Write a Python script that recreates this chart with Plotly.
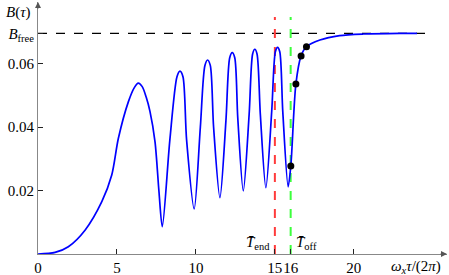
import plotly.graph_objects as go

# Curve B(tau)
tau = [0, 1.08, 1.92, 2.99, 4.04, 4.67, 5.09, 5.72, 6.1, 6.35, 6.6, 6.85, 7.09, 7.41, 7.66, 7.87,
       8.35, 8.8, 8.99, 9.18, 9.41, 9.89, 10.28, 10.57, 10.74, 10.91, 11.12, 11.52,
       11.9, 12.14, 12.3, 12.46, 12.65, 13.0,
       13.37, 13.59, 13.73, 13.87, 14.08, 14.43, 14.8, 15.03, 15.17, 15.31, 15.5, 15.84,
       16.01, 16.33, 16.66, 17.0, 17.85, 19.1, 20.6, 22.9, 24.0]
B = [0, 0.0005, 0.0023, 0.0076, 0.0165, 0.0249, 0.0365, 0.048, 0.0525, 0.0539, 0.0528, 0.0495, 0.045, 0.0354, 0.0197, 0.0086,
     0.036, 0.0559, 0.0577, 0.0559, 0.036, 0.0142, 0.040, 0.0595, 0.0612, 0.0595, 0.040, 0.0178,
     0.042, 0.0619, 0.0635, 0.0619, 0.043, 0.0199,
     0.044, 0.0631, 0.0646, 0.0631, 0.044, 0.0209, 0.045, 0.0638, 0.0652, 0.0638, 0.045, 0.0212,
     0.0278, 0.0536, 0.0625, 0.0654, 0.0675, 0.0689, 0.0694, 0.0696, 0.0696]

dot_tau = [16.01, 16.33, 16.66, 17.0]
dot_B = [0.0278, 0.0536, 0.0625, 0.0654]

B_free = 0.0696
T_end = 15
T_off = 16
x_ticks = [0, 5, 10, 15, 16, 20]
x_ticklabels = ["0", "5", "10", "15", "16", "20"]
y_ticks = [0.02, 0.04, 0.06, B_free]
y_ticklabels = ["0.02", "0.04", "0.06", "<i>B</i><sub>free</sub>"]

FONT = "Liberation Serif"

fig = go.Figure()
fig.add_trace(go.Scatter(x=[0, 25], y=[B_free, B_free], mode="lines",
                         line=dict(color="black", width=1.2, dash="dash"), hoverinfo="skip"))
fig.add_trace(go.Scatter(x=[T_end, T_end], y=[0, 0.0748], mode="lines",
                         line=dict(color="#ff3b3b", width=2, dash="dash"), hoverinfo="skip"))
fig.add_trace(go.Scatter(x=[T_off, T_off], y=[0, 0.0748], mode="lines",
                         line=dict(color="#3cff3c", width=2, dash="dash"), hoverinfo="skip"))
fig.add_trace(go.Scatter(x=tau, y=B, mode="lines",
                         line=dict(color="#0000ff", width=1.7, shape="spline", smoothing=0.8)))
fig.add_trace(go.Scatter(x=dot_tau, y=dot_B, mode="markers", marker=dict(color="black", size=7)))

fig.update_layout(
    width=449, height=275, showlegend=False,
    plot_bgcolor="white", paper_bgcolor="white",
    margin=dict(l=38, r=2, t=2, b=21),
    font=dict(family=FONT, size=15, color="black"),
    xaxis=dict(range=[0, 25.9], tickvals=x_ticks, ticktext=x_ticklabels, ticks="inside",
               ticklen=5, tickcolor="#222", showgrid=False, zeroline=False, showline=True,
               linecolor="#888", linewidth=1.2, tickfont=dict(size=15), tickangle=0,
               automargin=False),
    yaxis=dict(range=[0, 0.0795], tickvals=y_ticks, ticktext=y_ticklabels, ticks="inside",
               ticklen=5, tickcolor="#222", showgrid=False, zeroline=False, showline=True,
               linecolor="#888", linewidth=1.2, tickfont=dict(size=15), automargin=False),
)

# axis arrows
fig.add_annotation(x=0, y=0.0795, xref="x", yref="y", ax=0, ay=8, text="", showarrow=True,
                   arrowhead=2, arrowsize=1, arrowwidth=1.2, arrowcolor="#555")
fig.add_annotation(x=25.9, y=0, xref="x", yref="y", ax=-8, ay=0, text="", showarrow=True,
                   arrowhead=2, arrowsize=1, arrowwidth=1.2, arrowcolor="#555")

fig.add_annotation(x=T_end - 0.2, y=0.0035, xref="x", yref="y", text="<i>T̄</i><sub>end</sub>",
                   showarrow=False, xanchor="right", font=dict(size=15))
fig.add_annotation(x=T_off + 0.2, y=0.0035, xref="x", yref="y", text="<i>T̄</i><sub>off</sub>",
                   showarrow=False, xanchor="left", font=dict(size=15))
fig.add_annotation(x=0.99, y=0, xref="paper", yref="paper", yshift=-13,
                   text="<i>ω<sub>x</sub>τ</i>/(2<i>π</i>)", showarrow=False,
                   xanchor="right", yanchor="middle", font=dict(size=15))
fig.add_annotation(x=0, y=1, xref="paper", yref="paper", xshift=-20, yshift=-10,
                   text="<i>B</i>(<i>τ</i>)", showarrow=False, xanchor="center", yanchor="middle",
                   font=dict(size=15))

fig.write_html("out.html", config={"displayModeBar": False},
               post_script="document.body.style.margin='0';document.body.style.overflow='hidden';")
